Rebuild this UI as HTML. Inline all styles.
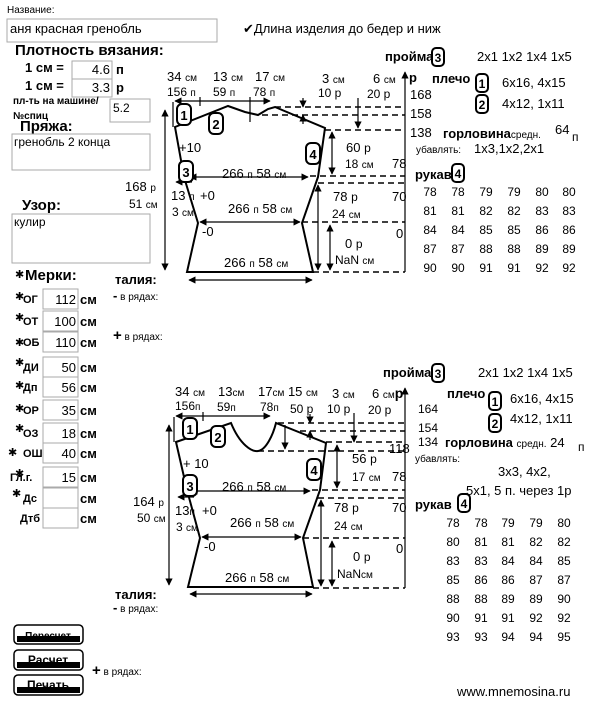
<!DOCTYPE html>
<html><head><meta charset="utf-8">
<style>
body{margin:0;background:#fff;width:600px;height:727px;overflow:hidden}
svg{display:block}
text{font-family:"Liberation Sans",sans-serif;fill:#000}
.b{font-weight:bold}
.s{font-size:10px}
.m{font-size:12px}
.n{font-size:13px}
.sh{fill:none;stroke:#000;stroke-width:2}
.ln{stroke:#000;stroke-width:1.2;fill:none}
.ds{stroke:#000;stroke-width:1.5;stroke-dasharray:6,4;fill:none}
.bx{fill:#fff;stroke:#000;stroke-width:2}
.in{fill:#fff;stroke:#aaa;stroke-width:1}
</style></head><body>
<svg width="600" height="727" viewBox="0 0 600 727" xmlns="http://www.w3.org/2000/svg">
<defs>
<marker id="a" viewBox="0 0 10 10" refX="9" refY="5" markerWidth="6" markerHeight="6" orient="auto-start-reverse"><path d="M0,0L10,5L0,10z"/></marker>
</defs>

<!-- LEFT PANEL -->
<text x="7" y="13" class="s">Название:</text>
<rect x="7" y="19" width="210" height="23" class="in"/>
<text x="10" y="33" class="n">аня красная гренобль</text>
<text x="243" y="33" class="n">✔Длина изделия до бедер и ниж</text>
<text x="15" y="55" class="b" font-size="15">Плотность вязания:</text>
<text x="25" y="72" class="b n">1 см =</text>
<rect x="72" y="61" width="40" height="18" class="in"/>
<text x="110" y="74" class="n" text-anchor="end">4.6</text>
<text x="116" y="74" class="b n">п</text>
<text x="25" y="90" class="b n">1 см =</text>
<rect x="72" y="79" width="40" height="18" class="in"/>
<text x="110" y="92" class="n" text-anchor="end">3.3</text>
<text x="116" y="92" class="b n">р</text>
<text x="13" y="104" class="b s">пл-ть на машине/</text>
<text x="13" y="119" class="b s">№спиц</text>
<rect x="110" y="99" width="40" height="23" class="in"/>
<text x="113" y="112" class="m">5.2</text>
<text x="20" y="131" class="b" font-size="15">Пряжа:</text>
<rect x="12" y="134" width="138" height="36" class="in"/>
<text x="14" y="146" class="m">гренобль 2 конца</text>
<text x="22" y="210" class="b" font-size="15">Узор:</text>
<rect x="12" y="214" width="138" height="49" class="in"/>
<text x="14" y="226" class="m">кулир</text>

<text x="25" y="280" class="b" font-size="15">Мерки:</text>
<g class="m">
<g font-family="Liberation Serif" font-size="11">
<text x="15" y="278">✱</text><text x="23" y="303" font-family="Liberation Serif" class="b">ОГ</text>
<text x="15" y="300">✱</text><text x="23" y="325" font-family="Liberation Serif" class="b">ОТ</text>
<text x="15" y="321">✱</text><text x="23" y="346" font-family="Liberation Serif" class="b">ОБ</text>
<text x="15" y="346">✱</text><text x="23" y="371" font-family="Liberation Serif" class="b">ДИ</text>
<text x="15" y="366">✱</text><text x="23" y="391" font-family="Liberation Serif" class="b">Дп</text>
<text x="15" y="389">✱</text><text x="23" y="414" font-family="Liberation Serif" class="b">ОР</text>
<text x="15" y="412">✱</text><text x="23" y="437" font-family="Liberation Serif" class="b">ОЗ</text>
<text x="15" y="432">✱</text><text x="23" y="457" font-family="Liberation Serif" class="b">ОШ</text>
<text x="8" y="456">✱</text><text x="10" y="481" font-family="Liberation Serif" class="b">Гл.г.</text>
<text x="15" y="477">✱</text><text x="23" y="502" font-family="Liberation Serif" class="b">Дс</text>
<text x="12" y="497">✱</text><text x="20" y="522" font-family="Liberation Serif" class="b">Дтб</text>
</g>
<rect x="43" y="289" width="35" height="20" class="in"/><text x="76" y="304" class="n" text-anchor="end">112</text><text x="80" y="304" class="b n">см</text>
<rect x="43" y="311" width="35" height="20" class="in"/><text x="76" y="326" class="n" text-anchor="end">100</text><text x="80" y="326" class="b n">см</text>
<rect x="43" y="332" width="35" height="20" class="in"/><text x="76" y="347" class="n" text-anchor="end">110</text><text x="80" y="347" class="b n">см</text>
<rect x="43" y="357" width="35" height="20" class="in"/><text x="76" y="372" class="n" text-anchor="end">50</text><text x="80" y="372" class="b n">см</text>
<rect x="43" y="377" width="35" height="20" class="in"/><text x="76" y="392" class="n" text-anchor="end">56</text><text x="80" y="392" class="b n">см</text>
<rect x="43" y="400" width="35" height="20" class="in"/><text x="76" y="415" class="n" text-anchor="end">35</text><text x="80" y="415" class="b n">см</text>
<rect x="43" y="423" width="35" height="20" class="in"/><text x="76" y="438" class="n" text-anchor="end">18</text><text x="80" y="438" class="b n">см</text>
<rect x="43" y="443" width="35" height="20" class="in"/><text x="76" y="458" class="n" text-anchor="end">40</text><text x="80" y="458" class="b n">см</text>
<rect x="43" y="467" width="35" height="20" class="in"/><text x="76" y="482" class="n" text-anchor="end">15</text><text x="80" y="482" class="b n">см</text>
<rect x="43" y="488" width="35" height="20" class="in"/><text x="80" y="503" class="b n">см</text>
<rect x="43" y="508" width="35" height="20" class="in"/><text x="80" y="523" class="b n">см</text>
</g>
<text x="115" y="284" class="b n">талия:</text>
<text x="113" y="300" class="s"><tspan class="b" font-size="13">-</tspan> в рядах:</text>
<text x="113" y="340" class="s"><tspan class="b" font-size="15">+</tspan> в рядах:</text>
<text x="115" y="599" class="b n">талия:</text>
<text x="113" y="612" class="s"><tspan class="b" font-size="13">-</tspan> в рядах:</text>
<text x="92" y="675" class="s"><tspan class="b" font-size="15">+</tspan> в рядах:</text>

<g>
<rect x="14" y="625" width="69" height="19" rx="4" fill="#fff" stroke="#000" stroke-width="1.5"/>
<rect x="17" y="636" width="63" height="6" fill="#000"/>
<text x="48" y="639" class="b s" text-anchor="middle">Пересчет</text>
<rect x="14" y="650" width="69" height="20" rx="4" fill="#fff" stroke="#000" stroke-width="1.5"/>
<rect x="17" y="662" width="63" height="6" fill="#000"/>
<text x="48" y="664" class="b m" text-anchor="middle">Расчет</text>
<rect x="14" y="675" width="69" height="20" rx="4" fill="#fff" stroke="#000" stroke-width="1.5"/>
<rect x="17" y="687" width="63" height="6" fill="#000"/>
<text x="48" y="689" class="b m" text-anchor="middle">Печать</text>
</g>

<!-- TOP DIAGRAM -->
<path class="sh" d="M175,127 L228,106 L245,112 L258,115 L268,109 L275,107 L325,128 L318,177 L302,223 L313,272 L187,272 L198,223 L184,177 Z"/>
<line x1="173" y1="102" x2="173" y2="127" class="ln"/>
<line x1="165" y1="270" x2="165" y2="110" class="ln" marker-end="url(#a)" marker-start="url(#a)"/>
<line x1="175" y1="101" x2="270" y2="101" class="ln" marker-end="url(#a)" marker-start="url(#a)"/>
<line x1="200" y1="97" x2="200" y2="106" class="ln"/><line x1="250" y1="97" x2="250" y2="122" class="ln"/>
<line x1="190" y1="177" x2="308" y2="177" class="ln" marker-end="url(#a)" marker-start="url(#a)"/>
<line x1="200" y1="222" x2="300" y2="222" class="ln" marker-end="url(#a)" marker-start="url(#a)"/>
<line x1="189" y1="280" x2="312" y2="280" class="ln" marker-end="url(#a)" marker-start="url(#a)"/>
<line x1="176" y1="182" x2="192" y2="182" class="ln" marker-start="url(#a)"/>
<path class="ds" d="M275,107H405M262,115H405M325,130H405M310,176H405M318,183H405M302,222H405M313,272H405"/>
<line x1="405" y1="272" x2="405" y2="72" class="ln" stroke-width="2" marker-end="url(#a)"/>
<line x1="303" y1="98" x2="303" y2="107" class="ln" marker-end="url(#a)"/>
<line x1="303" y1="124" x2="303" y2="115" class="ln" marker-end="url(#a)"/>
<line x1="358" y1="98" x2="358" y2="128" class="ln" marker-end="url(#a)"/>
<line x1="332" y1="132" x2="332" y2="174" class="ln" marker-end="url(#a)" marker-start="url(#a)"/>
<line x1="318" y1="185" x2="318" y2="270" class="ln" marker-end="url(#a)" marker-start="url(#a)"/>
<line x1="330" y1="225" x2="330" y2="270" class="ln" marker-end="url(#a)" marker-start="url(#a)"/>
<rect x="177" y="104" width="14" height="21" rx="5" class="bx"/><text x="184" y="120" class="b n" text-anchor="middle">1</text>
<rect x="209" y="113" width="14" height="21" rx="5" class="bx"/><text x="216" y="129" class="b n" text-anchor="middle">2</text>
<rect x="179" y="161" width="14" height="21" rx="5" class="bx"/><text x="186" y="177" class="b n" text-anchor="middle">3</text>
<rect x="306" y="143" width="14" height="21" rx="5" class="bx"/><text x="313" y="159" class="b n" text-anchor="middle">4</text>
<g class="n">
<text x="167" y="81">34 <tspan class="s">см</tspan></text>
<text x="213" y="81">13 <tspan class="s">см</tspan></text>
<text x="255" y="81">17 <tspan class="s">см</tspan></text>
<text x="167" y="96" class="m">156 <tspan class="s">п</tspan></text>
<text x="213" y="96" class="m">59 <tspan class="s">п</tspan></text>
<text x="253" y="96" class="m">78 <tspan class="s">п</tspan></text>
<text x="322" y="83">3 <tspan class="s">см</tspan></text>
<text x="318" y="97" class="m">10 р</text>
<text x="373" y="83">6 <tspan class="s">см</tspan></text>
<text x="367" y="98" class="m">20 р</text>
<text x="409" y="82" class="b">р</text>
<text x="410" y="99">168</text><text x="410" y="118">158</text><text x="410" y="137">138</text>
<text x="179" y="152">+10</text>
<text x="222" y="178">266 <tspan class="s">п</tspan>  58 <tspan class="s">см</tspan></text>
<text x="228" y="213">266 <tspan class="s">п</tspan>  58 <tspan class="s">см</tspan></text>
<text x="224" y="267">266 <tspan class="s">п</tspan>  58 <tspan class="s">см</tspan></text>
<text x="346" y="152">60 <tspan class="m">р</tspan></text>
<text x="345" y="168" class="m">18 <tspan class="s">см</tspan></text>
<text x="392" y="168">78</text>
<text x="333" y="201">78 <tspan class="m">р</tspan></text>
<text x="332" y="218" class="m">24 <tspan class="s">см</tspan></text>
<text x="392" y="201">70</text>
<text x="396" y="238">0</text>
<text x="345" y="248">0 <tspan class="m">р</tspan></text>
<text x="335" y="264" class="m">NaN <tspan class="s">см</tspan></text>
<text x="171" y="200">13 <tspan class="s">п</tspan></text>
<text x="172" y="216" class="m">3 <tspan class="s">см</tspan></text>
<text x="200" y="200">+0</text>
<text x="202" y="236">-0</text>
<text x="125" y="191">168 <tspan class="s">р</tspan></text>
<text x="129" y="208" class="m">51 <tspan class="s">см</tspan></text>
</g>

<!-- TOP RIGHT -->
<text x="385" y="61" class="b n">пройма</text>
<rect x="432" y="48" width="12" height="18" rx="4" class="bx"/><text x="438" y="62" class="b m" text-anchor="middle">3</text>
<text x="477" y="61" class="n">2x1 1x2 1x4  1x5</text>
<text x="432" y="83" class="b n">плечо</text>
<rect x="476" y="74" width="12" height="18" rx="4" class="bx"/><text x="482" y="88" class="b m" text-anchor="middle">1</text>
<text x="502" y="87" class="n">6x16, 4x15</text>
<rect x="476" y="95" width="12" height="18" rx="4" class="bx"/><text x="482" y="109" class="b m" text-anchor="middle">2</text>
<text x="502" y="108" class="n">4x12, 1x11</text>
<text x="443" y="138" class="b n">горловина<tspan class="s" font-weight="normal">средн.</tspan></text>
<text x="555" y="134" class="n">64</text><text x="572" y="141" class="m">п</text>
<text x="416" y="153" class="s">убавлять:</text><text x="474" y="153" class="n">1x3,1x2,2x1</text>
<text x="415" y="179" class="b n">рукав</text>
<rect x="452" y="164" width="12" height="18" rx="4" class="bx"/><text x="458" y="178" class="b m" text-anchor="middle">4</text>
<g text-anchor="middle" font-size="12">
<text x="430" y="196">78</text><text x="458" y="196">78</text><text x="486" y="196">79</text><text x="514" y="196">79</text><text x="542" y="196">80</text><text x="569" y="196">80</text>
<text x="430" y="215">81</text><text x="458" y="215">81</text><text x="486" y="215">82</text><text x="514" y="215">82</text><text x="542" y="215">83</text><text x="569" y="215">83</text>
<text x="430" y="234">84</text><text x="458" y="234">84</text><text x="486" y="234">85</text><text x="514" y="234">85</text><text x="542" y="234">86</text><text x="569" y="234">86</text>
<text x="430" y="253">87</text><text x="458" y="253">87</text><text x="486" y="253">88</text><text x="514" y="253">88</text><text x="542" y="253">89</text><text x="569" y="253">89</text>
<text x="430" y="272">90</text><text x="458" y="272">90</text><text x="486" y="272">91</text><text x="514" y="272">91</text><text x="542" y="272">92</text><text x="569" y="272">92</text>
</g>

<!-- BOTTOM DIAGRAM -->
<path class="sh" d="M176,442 L231,423 C240,445 252,452 258,451 C266,450 273,435 276,423 L326,443 L320,490 L303,538 L313,587 L188,587 L200,538 L187,490 Z"/>
<line x1="174" y1="417" x2="174" y2="442" class="ln"/>
<line x1="169" y1="585" x2="169" y2="425" class="ln" marker-end="url(#a)" marker-start="url(#a)"/>
<line x1="176" y1="416" x2="270" y2="416" class="ln" marker-end="url(#a)" marker-start="url(#a)"/>
<line x1="203" y1="412" x2="203" y2="421" class="ln"/>
<line x1="191" y1="491" x2="310" y2="491" class="ln" marker-end="url(#a)" marker-start="url(#a)"/>
<line x1="202" y1="537" x2="301" y2="537" class="ln" marker-end="url(#a)" marker-start="url(#a)"/>
<line x1="190" y1="594" x2="312" y2="594" class="ln" marker-end="url(#a)" marker-start="url(#a)"/>
<line x1="178" y1="497" x2="194" y2="497" class="ln" marker-start="url(#a)"/>
<path class="ds" d="M278,423H405M300,431H405M326,442H405M258,451H405M312,490H405M318,498H405M303,538H405M313,588H405"/>
<line x1="405" y1="588" x2="405" y2="388" class="ln" stroke-width="2" marker-end="url(#a)"/>
<line x1="310" y1="414" x2="310" y2="423" class="ln" marker-end="url(#a)"/>
<line x1="310" y1="440" x2="310" y2="431" class="ln" marker-end="url(#a)"/>
<line x1="285" y1="425" x2="285" y2="449" class="ln" marker-end="url(#a)"/>
<line x1="354" y1="413" x2="354" y2="442" class="ln" marker-end="url(#a)"/>
<line x1="337" y1="445" x2="337" y2="488" class="ln" marker-end="url(#a)" marker-start="url(#a)"/>
<line x1="321" y1="500" x2="321" y2="586" class="ln" marker-end="url(#a)" marker-start="url(#a)"/>
<line x1="332" y1="541" x2="332" y2="586" class="ln" marker-end="url(#a)" marker-start="url(#a)"/>
<rect x="183" y="418" width="14" height="21" rx="5" class="bx"/><text x="190" y="434" class="b n" text-anchor="middle">1</text>
<rect x="211" y="426" width="14" height="21" rx="5" class="bx"/><text x="218" y="442" class="b n" text-anchor="middle">2</text>
<rect x="183" y="475" width="14" height="21" rx="5" class="bx"/><text x="190" y="491" class="b n" text-anchor="middle">3</text>
<rect x="307" y="459" width="14" height="21" rx="5" class="bx"/><text x="314" y="475" class="b n" text-anchor="middle">4</text>
<g class="n">
<text x="175" y="396">34 <tspan class="s">см</tspan></text>
<text x="218" y="396">13<tspan class="s">см</tspan></text>
<text x="258" y="396">17<tspan class="s">см</tspan> 15 <tspan class="s">см</tspan></text>
<text x="332" y="398">3 <tspan class="s">см</tspan></text>
<text x="372" y="398">6 <tspan class="s">см</tspan><tspan class="b" font-size="14">р</tspan></text>
<text x="175" y="410" class="m">156<tspan class="s">п</tspan></text>
<text x="217" y="411" class="m">59<tspan class="s">п</tspan></text>
<text x="260" y="411" class="m">78<tspan class="s">п</tspan></text>
<text x="290" y="413" class="m">50 р</text>
<text x="327" y="413" class="m">10 р</text>
<text x="368" y="414" class="m">20 р</text>
<text x="418" y="413" class="m">164</text><text x="418" y="432" class="m">154</text><text x="418" y="446" class="m">134</text>
<text x="183" y="468">+ 10</text>
<text x="222" y="491">266 <tspan class="s">п</tspan>  58 <tspan class="s">см</tspan></text>
<text x="230" y="527">266 <tspan class="s">п</tspan>  58 <tspan class="s">см</tspan></text>
<text x="225" y="582">266 <tspan class="s">п</tspan>  58 <tspan class="s">см</tspan></text>
<text x="352" y="463">56 <tspan class="m">р</tspan></text>
<text x="352" y="481" class="m">17 <tspan class="s">см</tspan></text>
<text x="389" y="453">118</text>
<text x="392" y="481">78</text>
<text x="334" y="512">78 <tspan class="m">р</tspan></text>
<text x="334" y="530" class="m">24 <tspan class="s">см</tspan></text>
<text x="392" y="512">70</text>
<text x="396" y="553">0</text>
<text x="353" y="561">0 <tspan class="m">р</tspan></text>
<text x="337" y="578" class="m">NaN<tspan class="s">см</tspan></text>
<text x="175" y="515">13<tspan class="s">п</tspan></text>
<text x="176" y="531" class="m">3 <tspan class="s">см</tspan></text>
<text x="202" y="515">+0</text>
<text x="204" y="551">-0</text>
<text x="133" y="506">164 <tspan class="s">р</tspan></text>
<text x="137" y="522" class="m">50 <tspan class="s">см</tspan></text>
</g>

<!-- BOTTOM RIGHT -->
<text x="383" y="377" class="b n">пройма</text>
<rect x="432" y="364" width="12" height="18" rx="4" class="bx"/><text x="438" y="378" class="b m" text-anchor="middle">3</text>
<text x="478" y="377" class="n">2x1 1x2 1x4  1x5</text>
<text x="447" y="398" class="b n">плечо</text>
<rect x="489" y="392" width="12" height="18" rx="4" class="bx"/><text x="495" y="406" class="b m" text-anchor="middle">1</text>
<text x="510" y="403" class="n">6x16, 4x15</text>
<rect x="489" y="414" width="12" height="18" rx="4" class="bx"/><text x="495" y="428" class="b m" text-anchor="middle">2</text>
<text x="510" y="423" class="n">4x12, 1x11</text>
<text x="445" y="447" class="b n">горловина <tspan class="s" font-weight="normal">средн.</tspan><tspan font-weight="normal"> 24</tspan></text>
<text x="578" y="451" class="m">п</text>
<text x="415" y="462" class="s">убавлять:</text>
<text x="498" y="476" class="n">3x3, 4x2,</text>
<text x="466" y="495" class="n">5x1, 5 п. через 1р</text>
<text x="415" y="509" class="b n">рукав</text>
<rect x="458" y="494" width="12" height="18" rx="4" class="bx"/><text x="464" y="508" class="b m" text-anchor="middle">4</text>
<g text-anchor="middle" font-size="12">
<text x="453" y="527">78</text><text x="481" y="527">78</text><text x="508" y="527">79</text><text x="536" y="527">79</text><text x="564" y="527">80</text>
<text x="453" y="546">80</text><text x="481" y="546">81</text><text x="508" y="546">81</text><text x="536" y="546">82</text><text x="564" y="546">82</text>
<text x="453" y="565">83</text><text x="481" y="565">83</text><text x="508" y="565">84</text><text x="536" y="565">84</text><text x="564" y="565">85</text>
<text x="453" y="584">85</text><text x="481" y="584">86</text><text x="508" y="584">86</text><text x="536" y="584">87</text><text x="564" y="584">87</text>
<text x="453" y="603">88</text><text x="481" y="603">88</text><text x="508" y="603">89</text><text x="536" y="603">89</text><text x="564" y="603">90</text>
<text x="453" y="622">90</text><text x="481" y="622">91</text><text x="508" y="622">91</text><text x="536" y="622">92</text><text x="564" y="622">92</text>
<text x="453" y="641">93</text><text x="481" y="641">93</text><text x="508" y="641">94</text><text x="536" y="641">94</text><text x="564" y="641">95</text>
</g>
<text x="457" y="696" class="n">www.mnemosina.ru</text>
</svg>
</body></html>
